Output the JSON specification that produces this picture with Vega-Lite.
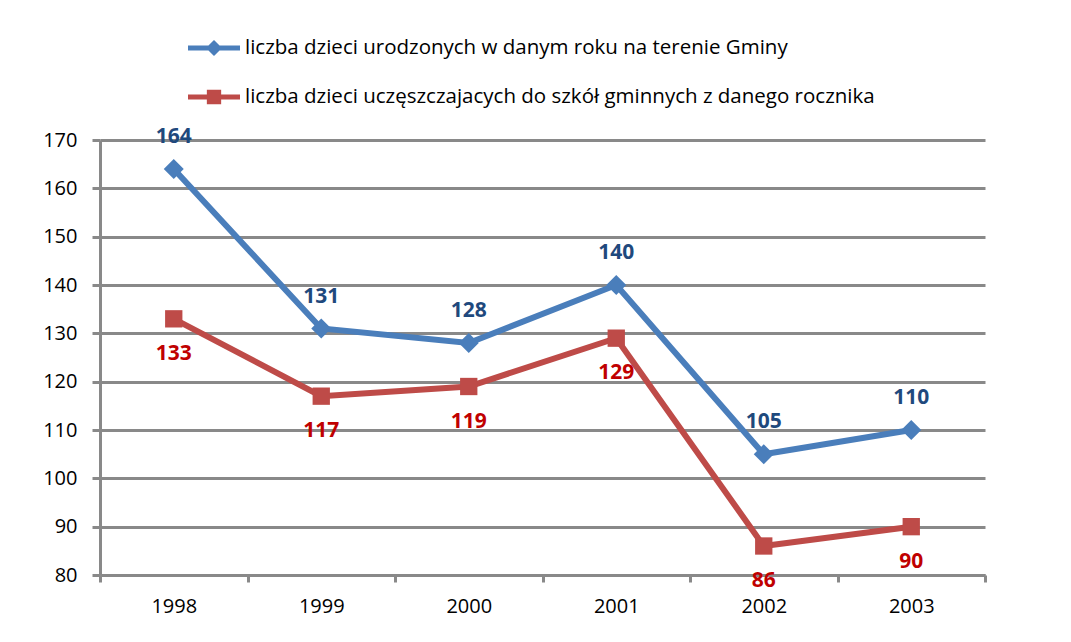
{
  "$schema": "https://vega.github.io/schema/vega-lite/v6.json",
  "width": 885,
  "height": 435,
  "autosize": {"type": "none"},
  "padding": {"left": 100, "top": 140, "right": 86, "bottom": 67},
  "background": "white",
  "config": {"view": {"stroke": null}, "font": "Open Sans"},
  "data": {
    "values": [
      {"year": "1998", "series": "liczba dzieci urodzonych w danym roku na terenie Gminy", "value": 164},
      {"year": "1999", "series": "liczba dzieci urodzonych w danym roku na terenie Gminy", "value": 131},
      {"year": "2000", "series": "liczba dzieci urodzonych w danym roku na terenie Gminy", "value": 128},
      {"year": "2001", "series": "liczba dzieci urodzonych w danym roku na terenie Gminy", "value": 140},
      {"year": "2002", "series": "liczba dzieci urodzonych w danym roku na terenie Gminy", "value": 105},
      {"year": "2003", "series": "liczba dzieci urodzonych w danym roku na terenie Gminy", "value": 110},
      {"year": "1998", "series": "liczba dzieci uczęszczajacych do szkół gminnych z danego rocznika", "value": 133},
      {"year": "1999", "series": "liczba dzieci uczęszczajacych do szkół gminnych z danego rocznika", "value": 117},
      {"year": "2000", "series": "liczba dzieci uczęszczajacych do szkół gminnych z danego rocznika", "value": 119},
      {"year": "2001", "series": "liczba dzieci uczęszczajacych do szkół gminnych z danego rocznika", "value": 129},
      {"year": "2002", "series": "liczba dzieci uczęszczajacych do szkół gminnych z danego rocznika", "value": 86},
      {"year": "2003", "series": "liczba dzieci uczęszczajacych do szkół gminnych z danego rocznika", "value": 90}
    ]
  },
  "encoding": {
    "x": {
      "field": "year", "type": "ordinal",
      "scale": {"paddingInner": 0, "paddingOuter": 0},
      "axis": {
        "title": null, "labelAngle": 0, "labelFontSize": 20, "labelColor": "black",
        "labelPadding": 14, "tickSize": 7, "tickWidth": 3, "tickColor": "#898989",
        "tickBand": "extent", "domainColor": "#898989", "domainWidth": 3, "grid": false
      }
    },
    "y": {
      "field": "value", "type": "quantitative",
      "scale": {"domain": [80, 170], "nice": false, "zero": false},
      "axis": {
        "title": null, "values": [80, 90, 100, 110, 120, 130, 140, 150, 160, 170],
        "labelFontSize": 20, "labelColor": "black", "labelPadding": 15,
        "tickSize": 8, "tickWidth": 3, "tickColor": "#898989",
        "domainColor": "#898989", "domainWidth": 3,
        "grid": true, "gridColor": "#898989", "gridWidth": 3, "gridOpacity": 1
      }
    }
  },
  "layer": [
    {
      "mark": {"type": "line", "strokeWidth": 6},
      "encoding": {
        "color": {
          "field": "series", "type": "nominal",
          "scale": {
            "domain": ["liczba dzieci urodzonych w danym roku na terenie Gminy", "liczba dzieci uczęszczajacych do szkół gminnych z danego rocznika"],
            "range": ["#4a7ebb", "#be4b48"]
          },
          "legend": {
            "title": null, "orient": "none", "legendX": 101, "legendY": -105,
            "symbolSize": 676, "labelFontSize": 20.5, "labelOffset": 18, "rowPadding": 25,
            "padding": 0, "labelColor": "black", "labelLimit": 0, "symbolStrokeWidth": 0,
            "encode": {
              "symbols": {
                "update": {
                  "shape": {"signal": "datum.index === 0 ? 'M-2,-0.19L2,-0.19L2,0.19L-2,0.19Z M0,-0.62L0.62,0L0,0.62L-0.62,0Z' : 'M-2,-0.19L2,-0.19L2,0.19L-2,0.19Z M-0.55,-0.55L0.55,-0.55L0.55,0.55L-0.55,0.55Z'"},
                  "fill": {"signal": "datum.index === 0 ? '#4a7ebb' : '#be4b48'"},
                  "stroke": {"value": "transparent"},
                  "opacity": {"value": 1},
                  "fillOpacity": {"value": 1}
                }
              }
            }
          }
        }
      }
    },
    {
      "transform": [{"filter": "datum.series === 'liczba dzieci urodzonych w danym roku na terenie Gminy'"}],
      "mark": {"type": "point", "filled": true, "opacity": 1, "shape": "diamond", "size": 400},
      "encoding": {"color": {"field": "series", "type": "nominal"}}
    },
    {
      "transform": [{"filter": "datum.series !== 'liczba dzieci urodzonych w danym roku na terenie Gminy'"}],
      "mark": {"type": "point", "filled": true, "opacity": 1, "shape": "square", "size": 300},
      "encoding": {"color": {"field": "series", "type": "nominal"}}
    },
    {
      "transform": [{"filter": "datum.series === 'liczba dzieci urodzonych w danym roku na terenie Gminy'"}],
      "mark": {"type": "text", "dy": -32, "fontSize": 21, "fontWeight": "bold", "color": "#1f497d"},
      "encoding": {"text": {"field": "value", "type": "quantitative"}}
    },
    {
      "transform": [{"filter": "datum.series !== 'liczba dzieci urodzonych w danym roku na terenie Gminy'"}],
      "mark": {"type": "text", "dy": 35, "fontSize": 21, "fontWeight": "bold", "color": "#c00000"},
      "encoding": {"text": {"field": "value", "type": "quantitative"}}
    }
  ]
}
